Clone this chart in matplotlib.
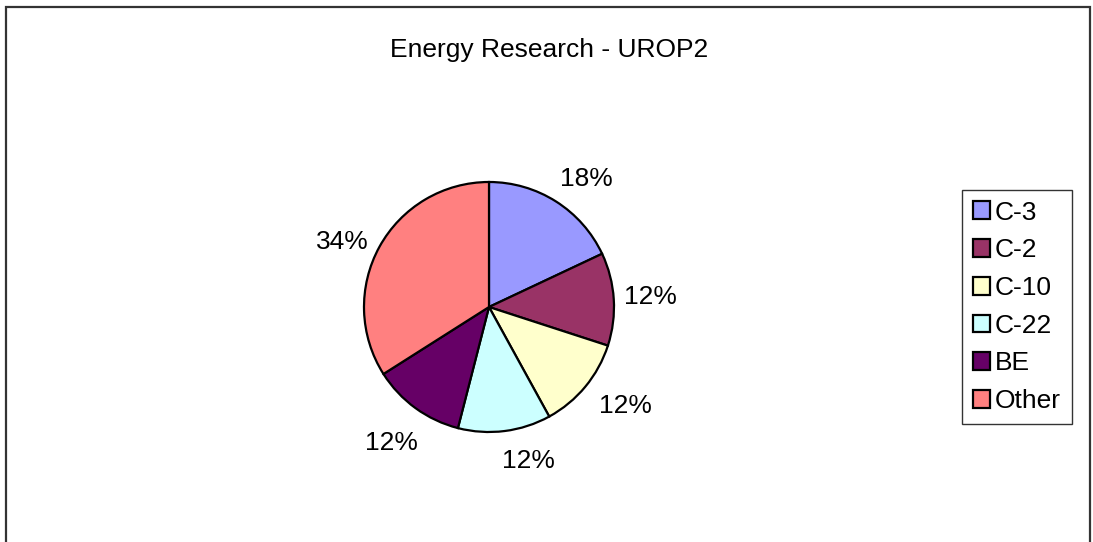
import matplotlib.pyplot as plt
from matplotlib.patches import Rectangle
from matplotlib.transforms import ScaledTranslation

plt.rcParams["font.family"] = ["Liberation Sans", "DejaVu Sans"]

title = "Energy Research - UROP2"
labels = ["C-3", "C-2", "C-10", "C-22", "BE", "Other"]
values = [18, 12, 12, 12, 12, 34]
colors = ["#9999FF", "#993366", "#FFFFCC", "#CCFFFF", "#660066", "#FF8080"]

W, H = 1093, 542
fig = plt.figure(figsize=(W / 100, H / 100), dpi=100)

# outer chart frame (bottom edge falls outside the image)
fig.patches.append(Rectangle((6 / W, -0.05), (1090 - 6) / W, 1.05 - 7 / H,
                             transform=fig.transFigure, fill=False,
                             edgecolor="#333333", linewidth=1.6))

fig.text(549 / W, 1 - 50 / H, title, ha="center", va="center", fontsize=19)

cx, cy, half = 489, 307, 200
ax = fig.add_axes([(cx - half) / W, (H - cy - half) / H, 2 * half / W, 2 * half / H])
wedges, texts, autotexts = ax.pie(
    values, colors=colors, startangle=90, counterclock=False,
    autopct="%1.0f%%", pctdistance=1.32,
    wedgeprops=dict(edgecolor="black", linewidth=1.6),
    textprops=dict(fontsize=19),
)
ax.set_xlim(-1.6, 1.6)
ax.set_ylim(-1.6, 1.6)
ax.set_aspect("equal")
ax.axis("off")

# small nudges (in px) so the labels sit where the spreadsheet put them
nudges = [(9, -11), (-3, 0), (9, 6), (19, 10), (-1, -3), (-2, -14)]
for t, (dx, dy) in zip(autotexts, nudges):
    t.set_transform(t.get_transform() + ScaledTranslation(dx / 100, dy / 100, fig.dpi_scale_trans))

leg = fig.legend(wedges, labels, loc="upper left",
                 bbox_to_anchor=(962 / W, 1 - 190 / H), fontsize=19,
                 frameon=True, fancybox=False, edgecolor="black",
                 handlelength=0.65, handleheight=0.65, handletextpad=0.2,
                 labelspacing=0.52, borderpad=0.4, borderaxespad=0)
leg.get_frame().set_linewidth(1.0)
for h in leg.legend_handles:
    h.set_linewidth(1.6)

fig.savefig("out.png", dpi=100)
